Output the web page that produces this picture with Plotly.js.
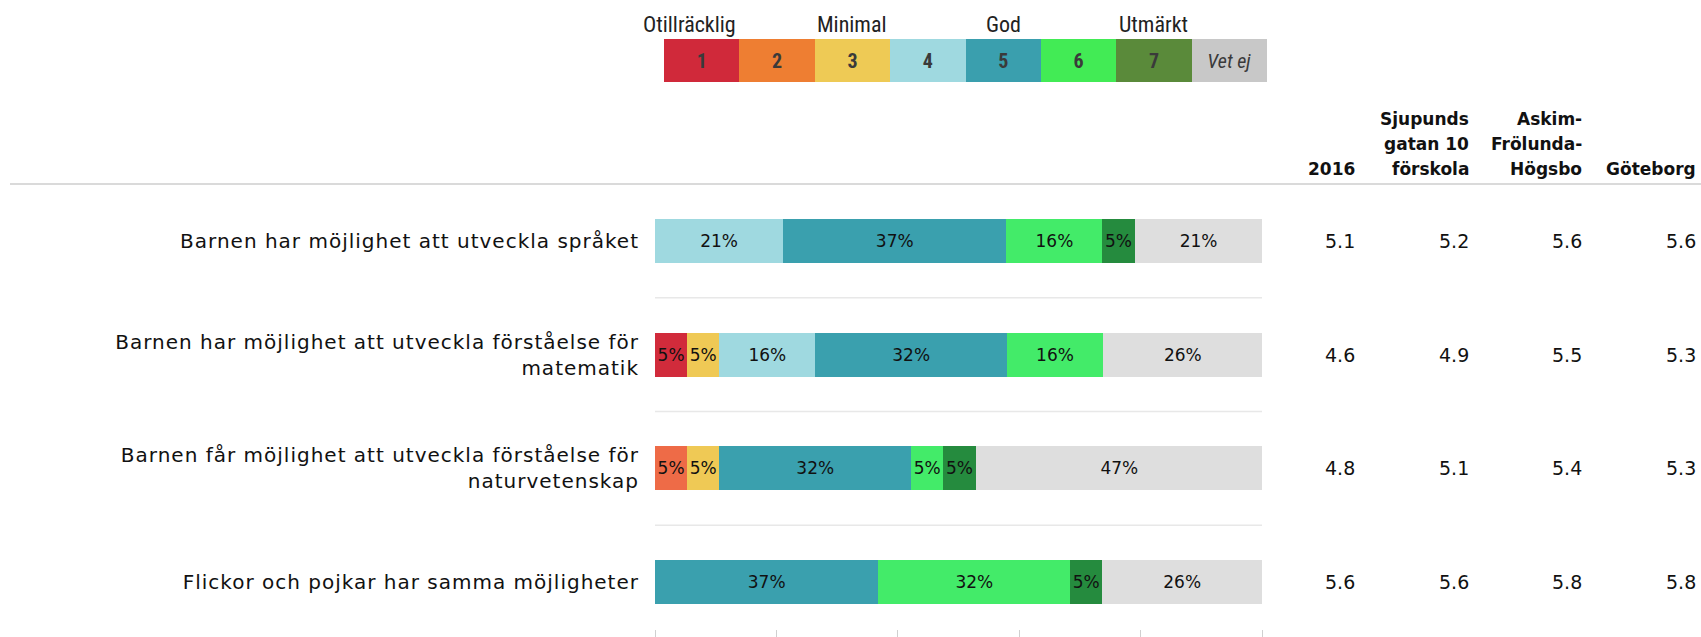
<!DOCTYPE html>
<html>
<head>
<meta charset="utf-8">
<script src="https://cdn.plot.ly/plotly-3.0.1.min.js"></script>
<style>
html,body{margin:0;padding:0;background:#fff;}
#chart{width:1701px;height:637px;}
#chart .ytick text{letter-spacing:1px;}
</style>
</head>
<body>
<div id="chart"></div>
<script>
// ---- data ----
var questions = [
  "Barnen har möjlighet att utveckla språket",
  "Barnen har möjlighet att utveckla förståelse för<br>matematik",
  "Barnen får möjlighet att utveckla förståelse för<br>naturvetenskap",
  "Flickor och pojkar har samma möjligheter"
];
var ratingNames = ["1", "2", "3", "4", "5", "6", "7", "Vet ej"];
var r1 = [null, 5.3, null, null];
var r2 = [null, null, 5.3, null];
var r3 = [null, 5.3, 5.3, null];
var r4 = [21.1, 15.8, null, null];
var r5 = [36.8, 31.6, 31.6, 36.8];
var r6 = [15.8, 15.8, 5.3, 31.6];
var r7 = [5.3, null, 5.3, 5.3];
var vetEj = [21.1, 26.3, 47.4, 26.3];
var seriesValues = [r1, r2, r3, r4, r5, r6, r7, vetEj];

var colHeaders = [["2016"], ["Sjupunds", "gatan 10", "förskola"], ["Askim-", "Frölunda-", "Högsbo"], ["Göteborg"]];
var val2016 = [5.1, 4.6, 4.8, 5.6];
var valSjupunds = [5.2, 4.9, 5.1, 5.6];
var valAskim = [5.6, 5.5, 5.4, 5.8];
var valGoteborg = [5.6, 5.3, 5.3, 5.8];
var columnValues = [val2016, valSjupunds, valAskim, valGoteborg];

var scaleLabels = ["Otillräcklig", "Minimal", "God", "Utmärkt"];
var scaleLabelAt = [0, 2, 4, 6];
var legendTexts = ["<b>1</b>", "<b>2</b>", "<b>3</b>", "<b>4</b>", "<b>5</b>", "<b>6</b>", "<b>7</b>", "<i>Vet ej</i>"];
var legendOnes = [1, 1, 1, 1, 1, 1, 1, 1];

// ---- styles ----
var barColors = ["#D12B3B", "#EE6B47", "#EFC955", "#9FD9E0", "#3AA0AE", "#43EB69", "#258B3E", "#DEDEDE"];
var legendColors = ["#D0293A", "#EE7E32", "#EECA55", "#9FD9E0", "#3A9FAE", "#42EB55", "#5A8A3A", "#C8C8C8"];
var W = 1701, H = 637;
function px(x) { return x / W; }
function py(y) { return 1 - y / H; }
var mainFont = "DejaVu Sans, Verdana, sans-serif";
var narrowFont = "Liberation Sans Narrow, Arial Narrow, Roboto Condensed, Liberation Sans, sans-serif";

var traces = [];
seriesValues.forEach(function (vals, i) {
  traces.push({
    type: "bar", orientation: "h",
    x: vals, y: questions,
    width: 0.387,
    marker: { color: barColors[i], line: { width: 0 } },
    text: vals.map(function (v) { return v == null ? "" : Math.round(v) + "%"; }),
    textposition: "inside", insidetextanchor: "middle",
    textangle: 0, constraintext: "none",
    textfont: { family: mainFont, size: 17, color: "#111" },
    hoverinfo: "skip", name: ratingNames[i]
  });
});
// colour key strip
traces.push({
  type: "bar", x: ratingNames, y: legendOnes, width: 1,
  xaxis: "x2", yaxis: "y2",
  marker: { color: legendColors, line: { width: 0 } },
  text: legendTexts, textposition: "inside", insidetextanchor: "middle",
  textangle: 0, constraintext: "none",
  textfont: { family: narrowFont, size: 20, color: "#3a3a3a" },
  hoverinfo: "skip"
});

var annotations = [];
var colRight = [1357, 1471, 1584, 1698];
colHeaders.forEach(function (lines, j) {
  var xr = colRight[j];
  lines.forEach(function (ln, k) {
    annotations.push({
      xref: "paper", yref: "paper", x: px(xr), y: py(181 - (lines.length - 1 - k) * 25),
      xanchor: "right", yanchor: "bottom", align: "right", showarrow: false,
      text: "<b>" + ln + "</b>",
      font: { family: mainFont, size: 17, color: "#111" }
    });
  });
  columnValues[j].forEach(function (v, i) {
    annotations.push({
      xref: "paper", yref: "y", x: px(xr), y: i,
      xanchor: "right", yanchor: "middle", showarrow: false,
      text: v.toFixed(1),
      font: { family: mainFont, size: 19, color: "#111" }
    });
  });
});
scaleLabels.forEach(function (t, k) {
  annotations.push({
    xref: "x2", yref: "paper", x: scaleLabelAt[k], y: py(24),
    xshift: k === 0 ? -12 : 0,
    xanchor: "center", yanchor: "middle", showarrow: false,
    text: t, font: { family: narrowFont, size: 22, color: "#222" }
  });
});

var shapes = [
  { type: "line", xref: "paper", yref: "paper", x0: px(10), x1: 1, y0: py(184), y1: py(184),
    line: { color: "#DADADA", width: 2 } }
];
[0.5, 1.5, 2.5].forEach(function (yy) {
  shapes.push({ type: "line", xref: "x", yref: "y", x0: 0, x1: 100, y0: yy, y1: yy,
    line: { color: "#E8E8E8", width: 1.5 }, layer: "below" });
});

var layout = {
  width: W, height: H,
  margin: { l: 0, r: 0, t: 0, b: 0, pad: 0 },
  paper_bgcolor: "#fff", plot_bgcolor: "#fff",
  barmode: "stack", showlegend: false, hovermode: false,
  xaxis: {
    domain: [px(655), px(1262)], range: [0, 100],
    showgrid: false, zeroline: false, showline: false,
    tickvals: [0, 20, 40, 60, 80, 100], ticks: "outside", ticklen: 8, tickcolor: "#D0D0D0",
    showticklabels: false, fixedrange: true
  },
  yaxis: {
    domain: [py(629), py(184)], range: [3.413, -0.5], type: "category",
    categoryorder: "array", categoryarray: questions,
    showgrid: false, zeroline: false, showline: false, ticks: "",
    ticklabelstandoff: 15,
    tickfont: { family: mainFont, size: 20, color: "#111" }, fixedrange: true
  },
  xaxis2: {
    domain: [px(664), px(1267)], range: [-0.5, 7.5], type: "category",
    anchor: "y2", showgrid: false, zeroline: false, showline: false,
    showticklabels: false, ticks: "", fixedrange: true
  },
  yaxis2: {
    domain: [py(82), py(39)], range: [0, 1], anchor: "x2",
    showgrid: false, zeroline: false, showline: false,
    showticklabels: false, ticks: "", fixedrange: true
  },
  annotations: annotations,
  shapes: shapes
};

Plotly.newPlot("chart", traces, layout, { displayModeBar: false, staticPlot: true });
</script>
</body>
</html>
